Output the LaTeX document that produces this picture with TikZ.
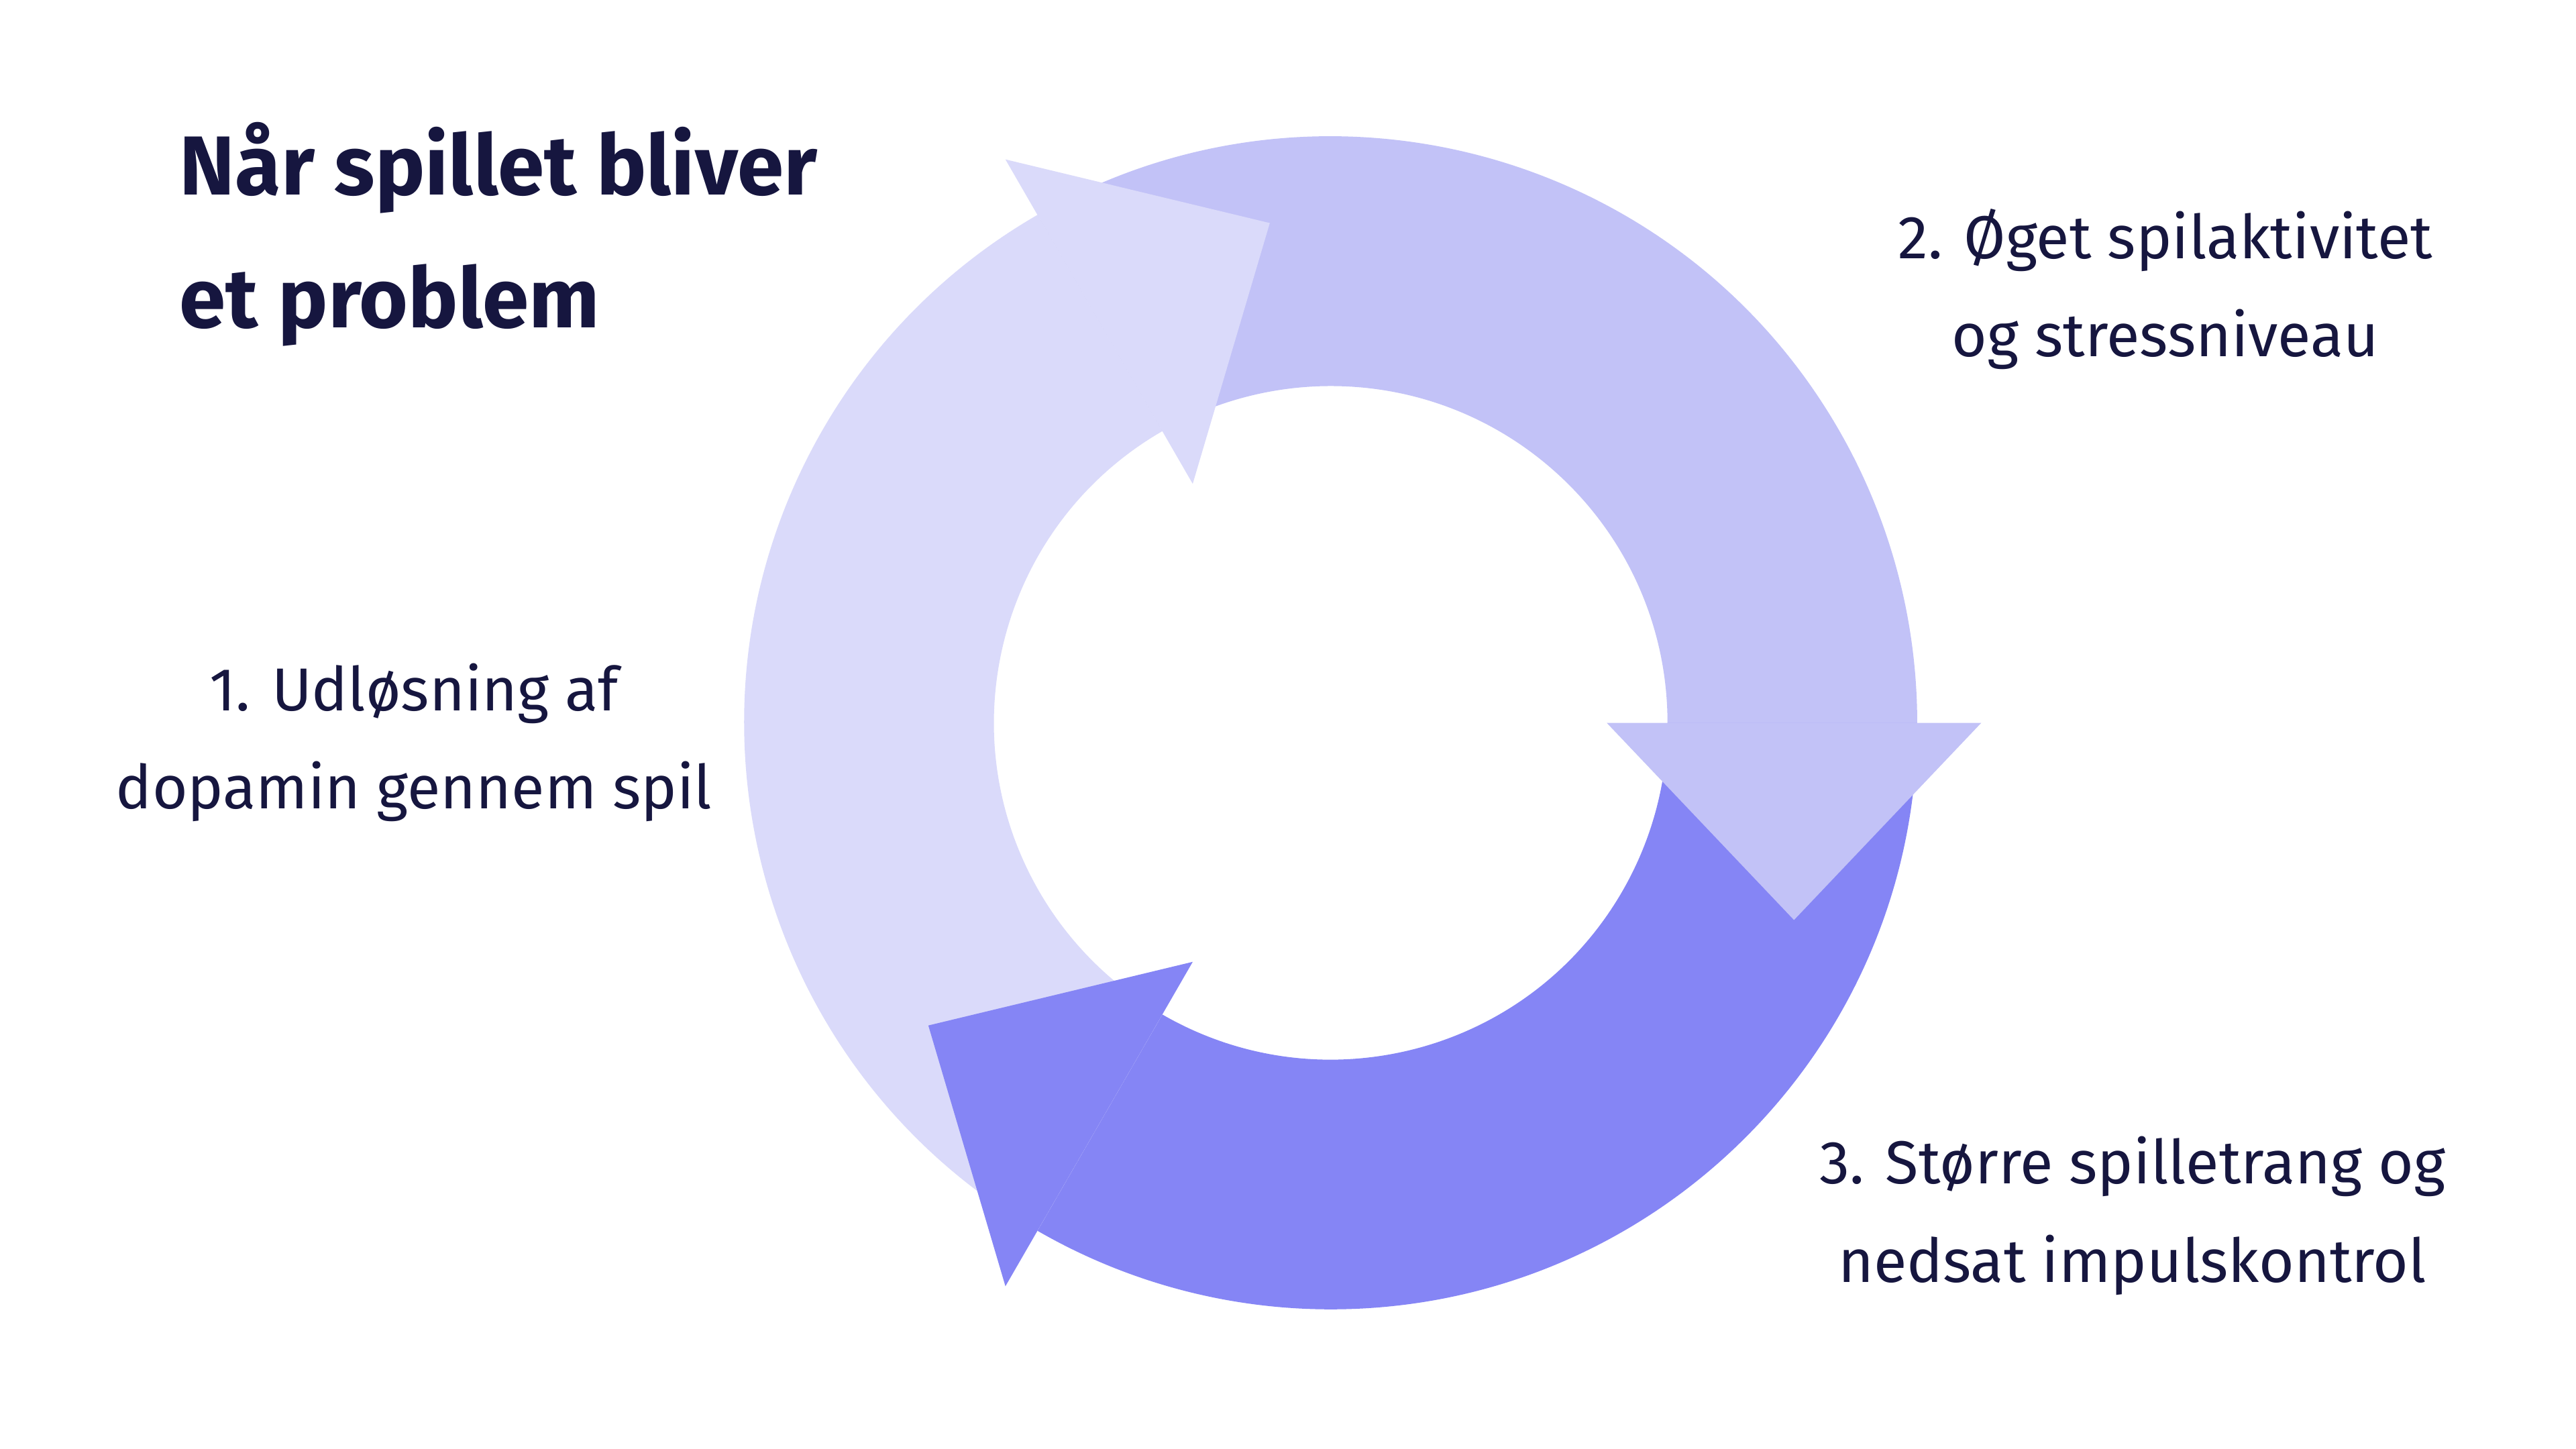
\documentclass[tikz,border=0pt]{standalone}
\usepackage{fontspec}
\setmainfont{Fira Sans}
\usetikzlibrary{calc}
\definecolor{cLight}{HTML}{DADAFA}
\definecolor{cMed}{HTML}{C2C2F7}
\definecolor{cDark}{HTML}{8585F5}
\definecolor{cText}{HTML}{16163F}
\begin{document}
\begin{tikzpicture}[x=0.01cm,y=0.01cm,
  lbl/.style={text=cText,font=\fontsize{10.5}{17}\selectfont,align=center},
  ttl/.style={text=cText,font=\bfseries\fontsize{14.5}{23}\selectfont,align=left,anchor=north west}]
\useasboundingbox (0,0) rectangle (1568,882);
\fill[white] (0,0) rectangle (1568,882);
\coordinate (C) at (810,442);
% bodies
\fill[cMed] ($(C)+(120:357)$) arc[start angle=120,end angle=0,radius=357] -- ($(C)+(0:205)$) arc[start angle=0,end angle=120,radius=205] -- cycle;
\fill[cDark] ($(C)+(0:357)$) arc[start angle=0,end angle=-120,radius=357] -- ($(C)+(240:205)$) arc[start angle=-120,end angle=0,radius=205] -- cycle;
\fill[cLight] ($(C)+(240:357)$) arc[start angle=240,end angle=120,radius=357] -- ($(C)+(120:205)$) arc[start angle=120,end angle=240,radius=205] -- cycle;
% heads
\foreach \t/\c in {120/cLight,0/cMed,240/cDark}{
  \fill[\c] ($(C)+(\t:168)$) -- ($(C)+(\t:396)$) -- ($(C)+(\t:282)+(\t-90:120)$) -- cycle;
}
\node[ttl] (title) at (97,820) {Når spillet bliver\\et problem};
\node[lbl] (l1) at (252,430) {1. Udløsning af\\dopamin gennem spil};
\node[lbl] (l2) at (1318,706) {2. Øget spilaktivitet\\og stressniveau};
\node[lbl] (l3) at (1298,142) {3. Større spilletrang og\\nedsat impulskontrol};
\end{tikzpicture}
\end{document}
